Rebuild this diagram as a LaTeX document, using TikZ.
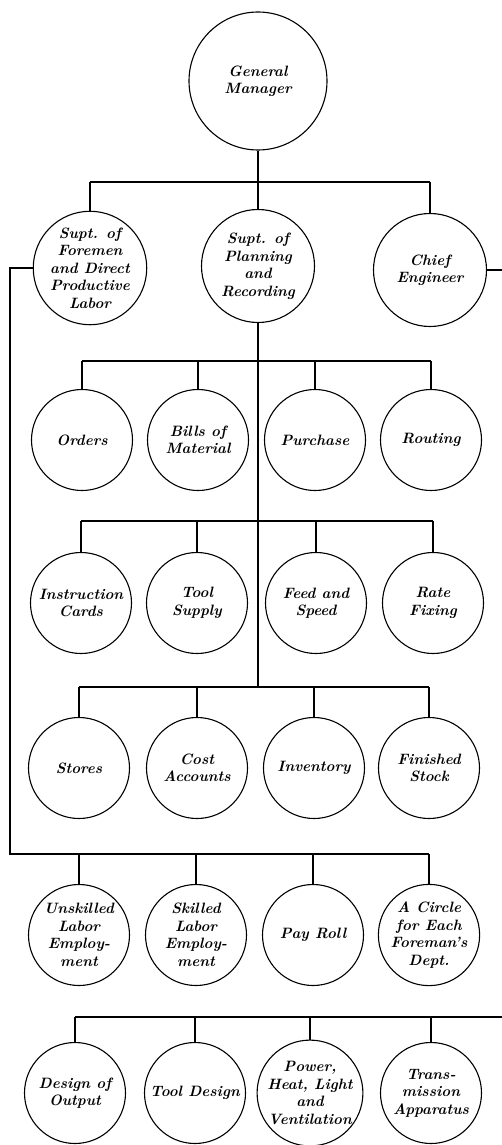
\documentclass[tikz,border=0pt]{standalone}
\begin{document}
\begin{tikzpicture}[x=1pt,y=-1pt,
  org/.style={circle,draw,line width=1.1pt,inner sep=0pt,align=center,
    font=\fontsize{15}{17.5}\selectfont\bfseries\itshape},
  big/.style={org,minimum size=138pt},
  mid/.style={org,minimum size=113pt},
  sml/.style={org,minimum size=101pt},
  conn/.style={line width=1.1pt}]
\useasboundingbox (0,0) rectangle (502,1145);
\clip (0,0) rectangle (502,1145);
% nodes
\node[big] (gm) at (258,81) {General\\Manager};
\node[mid] (fore) at (90,268) {Supt. of\\Foremen\\and Direct\\Productive\\Labor};
\node[mid] (plan) at (258,266) {Supt. of\\Planning\\and\\Recording};
\node[mid] (chief) at (430,270) {Chief\\Engineer};
\node[sml] (a1) at (82,440) {Orders};
\node[sml] (a2) at (198,440) {Bills of\\Material};
\node[sml] (a3) at (315,440) {Purchase};
\node[sml] (a4) at (431,440) {Routing};
\node[sml] (b1) at (81,603) {Instruction\\Cards};
\node[sml] (b2) at (197,603) {Tool\\Supply};
\node[sml] (b3) at (316,603) {Feed and\\Speed};
\node[sml] (b4) at (433,603) {Rate\\Fixing};
\node[sml] (c1) at (79,768) {Stores};
\node[sml] (c2) at (197,768) {Cost\\Accounts};
\node[sml] (c3) at (314,768) {Inventory};
\node[sml] (c4) at (429,768) {Finished\\Stock};
\node[sml] (d1) at (79,935) {Unskilled\\Labor\\Employ-\\ment};
\node[sml] (d2) at (196,935) {Skilled\\Labor\\Employ-\\ment};
\node[sml] (d3) at (313,935) {Pay Roll};
\node[sml] (d4) at (429,935) {A Circle\\for Each\\Foreman's\\Dept.};
\node[sml] (e1) at (75,1093) {Design of\\Output};
\node[sml] (e2) at (195,1093) {Tool Design};
\node[sml] (e3) at (310,1093) {Power,\\Heat, Light\\and\\Ventilation};
\node[sml] (e4) at (431,1093) {Trans-\\mission\\Apparatus};
% bus coordinates
\coordinate (busT) at (258,182);
\coordinate (busA) at (258,361);
\coordinate (busB) at (258,521);
\coordinate (busC) at (258,687);
\coordinate (busD) at (258,854);
\coordinate (busE) at (258,1017);
\coordinate (leftx) at (10,267);
\coordinate (rightx) at (506,268);
% top level
\draw[conn] (gm.south) -- (gm.south |- busT);
\draw[conn] (fore.north |- busT) -- (chief.north |- busT);
\foreach \n in {fore,plan,chief} \draw[conn] (\n.north) -- (\n.north |- busT);
% planning trunk
\draw[conn] (plan.south) -- (plan.south |- busC);
\draw[conn] (a1.north |- busA) -- (a4.north |- busA);
\draw[conn] (b1.north |- busB) -- (b4.north |- busB);
\draw[conn] (c1.north |- busC) -- (c4.north |- busC);
\foreach \n in {a1,a2,a3,a4} \draw[conn] (\n.north) -- (\n.north |- busA);
\foreach \n in {b1,b2,b3,b4} \draw[conn] (\n.north) -- (\n.north |- busB);
\foreach \n in {c1,c2,c3,c4} \draw[conn] (\n.north) -- (\n.north |- busC);
% foremen loop
\draw[conn] (fore.west) -- (fore.west -| leftx) -- (leftx |- busD) -- (d4.north |- busD);
\foreach \n in {d1,d2,d3,d4} \draw[conn] (\n.north) -- (\n.north |- busD);
% chief engineer loop
\draw[conn] (chief.east) -- (chief.east -| rightx) -- (rightx |- busE) -- (e1.north |- busE);
\foreach \n in {e1,e2,e3,e4} \draw[conn] (\n.north) -- (\n.north |- busE);
\end{tikzpicture}
\end{document}
